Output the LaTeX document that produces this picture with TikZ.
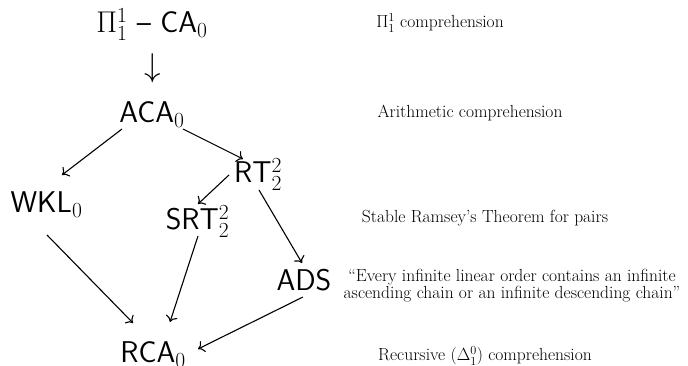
\RequirePackage{fix-cm}
\documentclass[tikz,border=0pt]{standalone}
\usepackage{amsmath}
\usetikzlibrary{arrows.meta}
\DeclareMathSizes{30}{30}{21.5}{15}
\begin{document}
\begin{tikzpicture}[x=1pt,y=1pt,
  sys/.style={inner sep=0pt,anchor=base,font=\fontsize{30}{34}\selectfont\sffamily},
  note/.style={inner sep=0pt,align=center,font=\fontsize{17.5}{14}\selectfont},
  imp/.style={-{To[length=6pt,width=12pt]},line width=1.1pt}]
\useasboundingbox (0,0) rectangle (688,366);
% systems (y = 366 - pixel y)
\node[sys] (pi) at (152,333) {$\Pi^1_1$ -- CA$_0$};
\node[inner sep=0pt,font=\fontsize{33}{36}\selectfont] (da) at (153,298) {$\downarrow$};
\node[sys] (aca) at (152,243) {ACA$_0$};
\node[sys] (wkl) at (46.5,153) {WKL$_0$};
\node[sys] (rt) at (258,183) {RT$^2_2$};
\node[sys] (srt) at (197.5,136) {SRT$^2_2$};
\node[sys] (ads) at (304,75) {ADS};
\node[sys] (rca) at (153,3) {RCA$_0$};
% connector end points
\coordinate (acaL) at (122,237);
\coordinate (acaR) at (183,237);
\coordinate (wklT) at (62,191);
\coordinate (wklB) at (47,131);
\coordinate (rtT) at (243,207);
\coordinate (rtL) at (229,191);
\coordinate (rtB) at (259,176);
\coordinate (srtT) at (198,162);
\coordinate (srtB) at (198,130);
\coordinate (adsT) at (302,103);
\coordinate (adsB) at (303,69);
\coordinate (rcaW) at (133,43);
\coordinate (rcaS) at (170,44);
\coordinate (rcaE) at (198,17);
\draw[imp] (acaL) -- (wklT);
\draw[imp] (acaR) -- (rtT);
\draw[imp] (rtL) -- (srtT);
\draw[imp] (rtB) -- (adsT);
\draw[imp] (wklB) -- (rcaW);
\draw[imp] (srtB) -- (rcaS);
\draw[imp] (adsB) -- (rcaE);
% notes
\node[note] (n1) at (440,343) {$\Pi^1_1$ comprehension};
\node[note] (n2) at (470,253) {Arithmetic comprehension};
\node[note] (n3) at (485,148) {Stable Ramsey's Theorem for pairs};
\node[note] (n4) at (512,80) {``Every infinite linear order contains an infinite\\ascending chain or an infinite descending chain''};
\node[note] (n5) at (485,10) {Recursive ($\Delta^0_1$) comprehension};
\end{tikzpicture}
\end{document}
